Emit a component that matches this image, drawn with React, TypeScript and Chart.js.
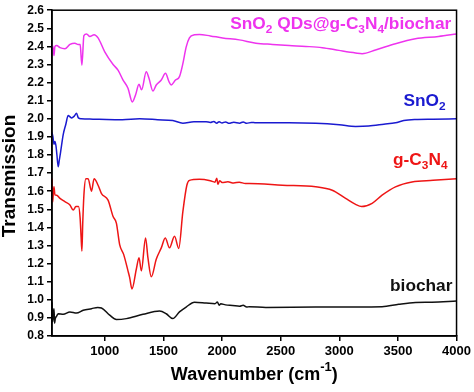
import React, { useEffect, useRef } from "react";
import { Chart, registerables } from "chart.js";

Chart.register(...registerables);

// ---- data ----
const xTicks = [1000, 1500, 2000, 2500, 3000, 3500, 4000];

const hybridX = [550, 560, 567, 575, 590, 618, 660, 703, 745, 773, 790, 805, 822, 845, 873, 909, 943, 1000, 1071, 1113, 1156, 1198, 1235, 1263, 1292, 1314, 1354, 1377, 1411, 1439, 1482, 1518, 1547, 1567, 1603, 1637, 1666, 1694, 1722, 1765, 1807, 1900, 2005, 2147, 2289, 2430, 2572, 2714, 2855, 2997, 3139, 3195, 3309, 3479, 3649, 3847, 4000];
const hybridY = [2.41, 2.39, 2.35, 2.4, 2.405, 2.393, 2.387, 2.411, 2.418, 2.411, 2.41, 2.296, 2.46, 2.469, 2.455, 2.465, 2.447, 2.37, 2.3, 2.269, 2.214, 2.169, 2.093, 2.133, 2.191, 2.16, 2.26, 2.224, 2.154, 2.187, 2.214, 2.251, 2.206, 2.187, 2.214, 2.233, 2.305, 2.396, 2.447, 2.464, 2.466, 2.458, 2.447, 2.436, 2.418, 2.411, 2.405, 2.4, 2.393, 2.378, 2.364, 2.36, 2.38, 2.415, 2.442, 2.455, 2.469];

const sno2X = [550, 558, 567, 575, 584, 592, 603, 612, 623, 646, 668, 688, 705, 717, 740, 759, 775, 800, 900, 1014, 1150, 1297, 1450, 1580, 1666, 1760, 1864, 1900, 1930, 1955, 1975, 2000, 2030, 2060, 2100, 2150, 2180, 2210, 2250, 2289, 2430, 2572, 2800, 3000, 3139, 3250, 3380, 3479, 3550, 3649, 3800, 4000];
const sno2Y = [1.925, 1.9, 1.86, 1.875, 1.85, 1.8, 1.735, 1.77, 1.815, 1.914, 1.97, 2.018, 2.01, 2.005, 2.015, 2.03, 2.005, 2.0, 1.998, 1.996, 1.995, 2.0, 1.995, 1.99, 1.976, 1.984, 1.984, 1.98, 1.985, 1.976, 1.984, 1.977, 1.983, 1.975, 1.981, 1.976, 1.983, 1.975, 1.98, 1.978, 1.978, 1.978, 1.975, 1.967, 1.958, 1.96, 1.97, 1.978, 1.99, 1.996, 1.998, 2.0];

const gcnX = [550, 556, 562, 567, 575, 590, 618, 660, 703, 731, 754, 776, 790, 798, 805, 812, 822, 839, 858, 887, 909, 943, 972, 1028, 1071, 1099, 1127, 1161, 1198, 1212, 1232, 1269, 1292, 1312, 1348, 1368, 1397, 1439, 1482, 1516, 1552, 1595, 1631, 1666, 1700, 1722, 1807, 1900, 1940, 1955, 1965, 1980, 2000, 2050, 2100, 2147, 2200, 2232, 2515, 2799, 2940, 3054, 3139, 3190, 3280, 3365, 3479, 3620, 3800, 4000];
const gcnY = [1.67, 1.54, 1.6, 1.625, 1.58, 1.578, 1.56, 1.542, 1.524, 1.496, 1.515, 1.515, 1.45, 1.35, 1.269, 1.42, 1.578, 1.669, 1.669, 1.6, 1.669, 1.633, 1.587, 1.551, 1.46, 1.424, 1.305, 1.251, 1.16, 1.124, 1.06, 1.169, 1.233, 1.16, 1.342, 1.233, 1.127, 1.224, 1.287, 1.342, 1.287, 1.351, 1.284, 1.487, 1.633, 1.66, 1.666, 1.658, 1.65, 1.672, 1.638, 1.658, 1.648, 1.652, 1.645, 1.65, 1.642, 1.642, 1.633, 1.624, 1.605, 1.56, 1.527, 1.515, 1.533, 1.578, 1.624, 1.651, 1.66, 1.669];

const biocharX = [550, 556, 562, 567, 572, 578, 590, 603, 646, 703, 759, 816, 887, 940, 972, 1042, 1099, 1184, 1326, 1467, 1524, 1580, 1637, 1694, 1765, 1864, 1940, 1960, 1975, 1990, 2030, 2090, 2150, 2180, 2210, 2232, 2374, 2799, 3365, 3507, 3650, 3790, 4000];
const biocharY = [0.987, 0.878, 0.93, 0.951, 0.87, 0.896, 0.91, 0.923, 0.92, 0.933, 0.927, 0.942, 0.951, 0.958, 0.955, 0.915, 0.891, 0.896, 0.92, 0.938, 0.923, 0.896, 0.933, 0.96, 0.987, 0.982, 0.978, 0.988, 0.97, 0.978, 0.972, 0.969, 0.965, 0.97, 0.96, 0.962, 0.958, 0.96, 0.962, 0.975, 0.985, 0.987, 0.993];

const seriesNames = ["SnO2 QDs@g-C3N4/biochar", "SnO2", "g-C3N4", "biochar"];
const seriesColors = ["#ee33ee", "#1a1ad0", "#ee1515", "#111111"];

// in-plot labels: segments [text, isSubscript]
const labelSegments: [string, boolean][][] = [
  [["SnO", false], ["2", true], [" QDs@g-C", false], ["3", true], ["N", false], ["4", true], ["/biochar", false]],
  [["SnO", false], ["2", true]],
  [["g-C", false], ["3", true], ["N", false], ["4", true]],
  [["biochar", false]],
];
// anchor (right edge, baseline) in data coordinates
const labelAnchorX = [3955, 3906, 3923, 3965];
const labelAnchorY = [2.496, 2.071, 1.744, 1.051];

const FONT = "'Liberation Sans', Arial, sans-serif";

function toPoints(xs: number[], ys: number[]) {
  return xs.map((x, i) => ({ x, y: ys[i] }));
}

const decorPlugin = {
  id: "decor",
  afterDatasetsDraw(chart: any) {
    const { ctx, chartArea } = chart;
    ctx.save();
    ctx.strokeStyle = "#000";
    ctx.lineWidth = 1.5;
    ctx.strokeRect(chartArea.left, chartArea.top, chartArea.right - chartArea.left, chartArea.bottom - chartArea.top);
    ctx.restore();
  },
  afterDraw(chart: any) {
    const { ctx, chartArea, scales } = chart;
    const sx = 1.08;
    labelSegments.forEach((segs, i) => {
      ctx.save();
      let total = 0;
      segs.forEach(([t, sub]) => {
        ctx.font = `bold ${sub ? 11 : 16}px ${FONT}`;
        total += ctx.measureText(t).width;
      });
      const right = scales.x.getPixelForValue(labelAnchorX[i]);
      const base = scales.y.getPixelForValue(labelAnchorY[i]);
      ctx.translate(right - total * sx, base);
      ctx.scale(sx, 1);
      ctx.fillStyle = seriesColors[i];
      ctx.textBaseline = "alphabetic";
      ctx.textAlign = "left";
      let x = 0;
      segs.forEach(([t, sub]) => {
        ctx.font = `bold ${sub ? 11 : 16}px ${FONT}`;
        ctx.fillText(t, x, sub ? 4 : 0);
        x += ctx.measureText(t).width;
      });
      ctx.restore();
    });

    ctx.save();
    ctx.fillStyle = "#000";
    ctx.font = `bold 19px ${FONT}`;
    ctx.textAlign = "center";
    ctx.textBaseline = "alphabetic";
    ctx.translate(15, 176);
    ctx.rotate(-Math.PI / 2);
    ctx.fillText("Transmission", 0, 0);
    ctx.restore();

    ctx.save();
    ctx.fillStyle = "#000";
    ctx.textBaseline = "alphabetic";
    ctx.textAlign = "left";
    const parts: [string, number, number][] = [
      ["Wavenumber ", 18, 0],
      ["(cm", 18, 0],
      ["-1", 13, -9],
      [")", 18, 0],
    ];
    let tw = 0;
    parts.forEach(([t, s]) => {
      ctx.font = `bold ${s}px ${FONT}`;
      tw += ctx.measureText(t).width;
    });
    const cx = (chartArea.left + chartArea.right) / 2;
    let x = cx - tw / 2;
    parts.forEach(([t, s, dy]) => {
      ctx.font = `bold ${s}px ${FONT}`;
      ctx.fillText(t, x, 380 + dy);
      x += ctx.measureText(t).width;
    });
    ctx.restore();
  },
};

export default function App() {
  const ref = useRef<HTMLCanvasElement | null>(null);
  useEffect(() => {
    document.body.style.margin = "0";
    const canvas = ref.current;
    if (!canvas) return;
    const xs = [hybridX, sno2X, gcnX, biocharX];
    const ys = [hybridY, sno2Y, gcnY, biocharY];
    const chart = new Chart(canvas, {
      type: "line",
      data: {
        datasets: seriesNames.map((name, i) => ({
          label: name,
          data: toPoints(xs[i], ys[i]),
          borderColor: seriesColors[i],
          backgroundColor: seriesColors[i],
          borderWidth: 1.5,
          pointRadius: 0,
          cubicInterpolationMode: "monotone" as const,
          fill: false,
        })),
      },
      options: {
        animation: false,
        responsive: true,
        maintainAspectRatio: false,
        layout: { padding: { top: 0, right: 14, left: 0, bottom: 0 } },
        plugins: { legend: { display: false }, tooltip: { enabled: false } },
        scales: {
          x: {
            type: "linear",
            min: 550,
            max: 4000,
            afterBuildTicks: (s: any) => {
              s.ticks = xTicks.map((v) => ({ value: v }));
            },
            afterFit: (s: any) => {
              s.height = 56;
            },
            ticks: {
              color: "#000",
              font: { family: FONT, size: 13, weight: "bold" },
              maxRotation: 0,
              autoSkip: false,
              padding: 3,
              callback: (v: any) => String(v),
            },
            grid: { drawOnChartArea: false, drawTicks: true, tickLength: 5, color: "#000", lineWidth: 1.5 },
            border: { display: true, color: "#000", width: 1.5 },
          },
          y: {
            type: "linear",
            min: 0.8,
            max: 2.6,
            afterFit: (s: any) => {
              s.width = 52;
            },
            ticks: {
              stepSize: 0.1,
              color: "#000",
              autoSkip: false,
              font: { family: FONT, size: 12, weight: "bold" },
              padding: 3,
              callback: (v: any) => Number(v).toFixed(1),
            },
            grid: { drawOnChartArea: false, drawTicks: true, tickLength: 5, color: "#000", lineWidth: 1.5 },
            border: { display: true, color: "#000", width: 1.5 },
          },
        },
      },
      plugins: [decorPlugin],
    });
    return () => chart.destroy();
  }, []);
  return (
    <div style={{ width: 474, height: 392, position: "relative" }}>
      <canvas ref={ref} />
    </div>
  );
}
